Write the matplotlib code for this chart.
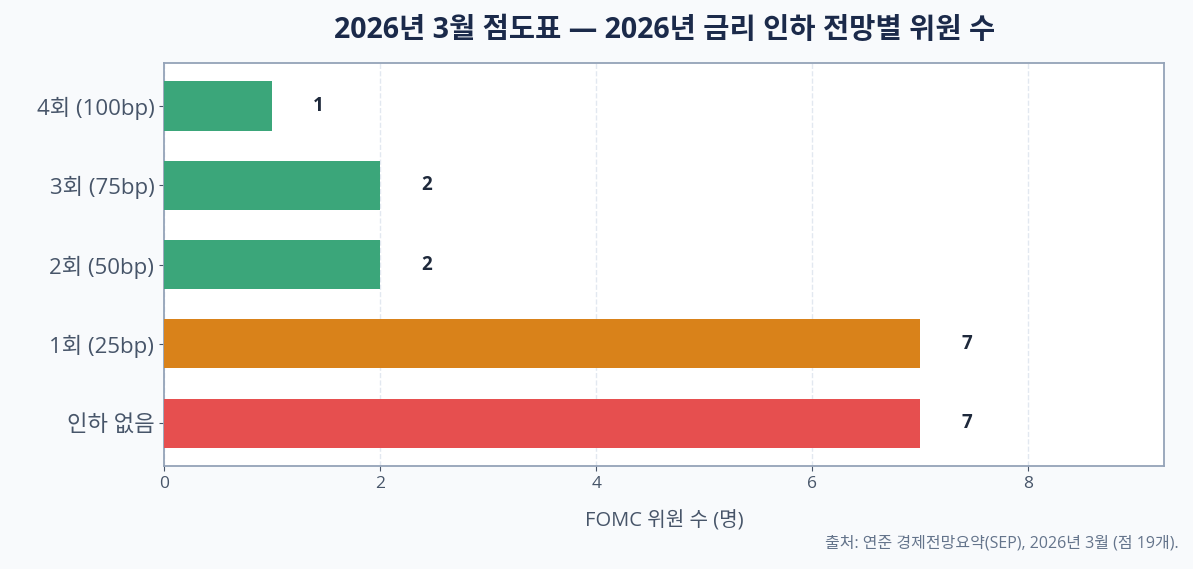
import matplotlib
matplotlib.use("Agg")
import matplotlib.pyplot as plt

plt.rcParams['font.family'] = ['Open Sans', 'Noto Sans CJK KR', 'DejaVu Sans']

categories = ['인하 없음', '1회 (25bp)', '2회 (50bp)', '3회 (75bp)', '4회 (100bp)']
counts = [7, 7, 2, 2, 1]
colors = ['#E64F4F', '#D9821A', '#3BA67A', '#3BA67A', '#3BA67A']

fig, ax = plt.subplots(figsize=(11.93, 5.69), dpi=100)
fig.patch.set_facecolor('#F8FAFC')
ax.set_facecolor('white')

ypos = range(len(categories))
ax.barh(ypos, counts, height=0.62, color=colors, zorder=3)

for y, v in zip(ypos, counts):
    ax.text(v + 0.43, y, str(v), ha='center', va='center', fontsize=13.5,
            fontweight='bold', color='#1E293B', zorder=4)

ax.set_yticks(list(ypos))
ax.set_yticklabels(categories, fontsize=16, color='#475569')
ax.set_xlim(0, 9.26)
ax.set_xticks([0, 2, 4, 6, 8])
ax.tick_params(axis='x', labelsize=12.5, colors='#475569')
ax.tick_params(axis='y', colors='#475569')

ax.grid(axis='x', linestyle='--', color='#E2E8F0', linewidth=1, zorder=0)
for s in ax.spines.values():
    s.set_color('#94A3B8')
    s.set_linewidth(1.3)

ax.set_xlabel('FOMC 위원 수 (명)', fontsize=14.5, color='#475569', labelpad=14)
ax.set_title('2026년 3월 점도표 — 2026년 금리 인하 전망별 위원 수', fontsize=20.5,
             fontweight='bold', color='#1B2A4A', pad=18)

fig.text(0.988, 0.03, '출처: 연준 경제전망요약(SEP), 2026년 3월 (점 19개).', ha='right',
         va='bottom', fontsize=11.5, color='#64748B')

fig.subplots_adjust(left=0.1375, right=0.976, top=0.889, bottom=0.181)
fig.savefig('out.png', dpi=100, facecolor=fig.get_facecolor())
